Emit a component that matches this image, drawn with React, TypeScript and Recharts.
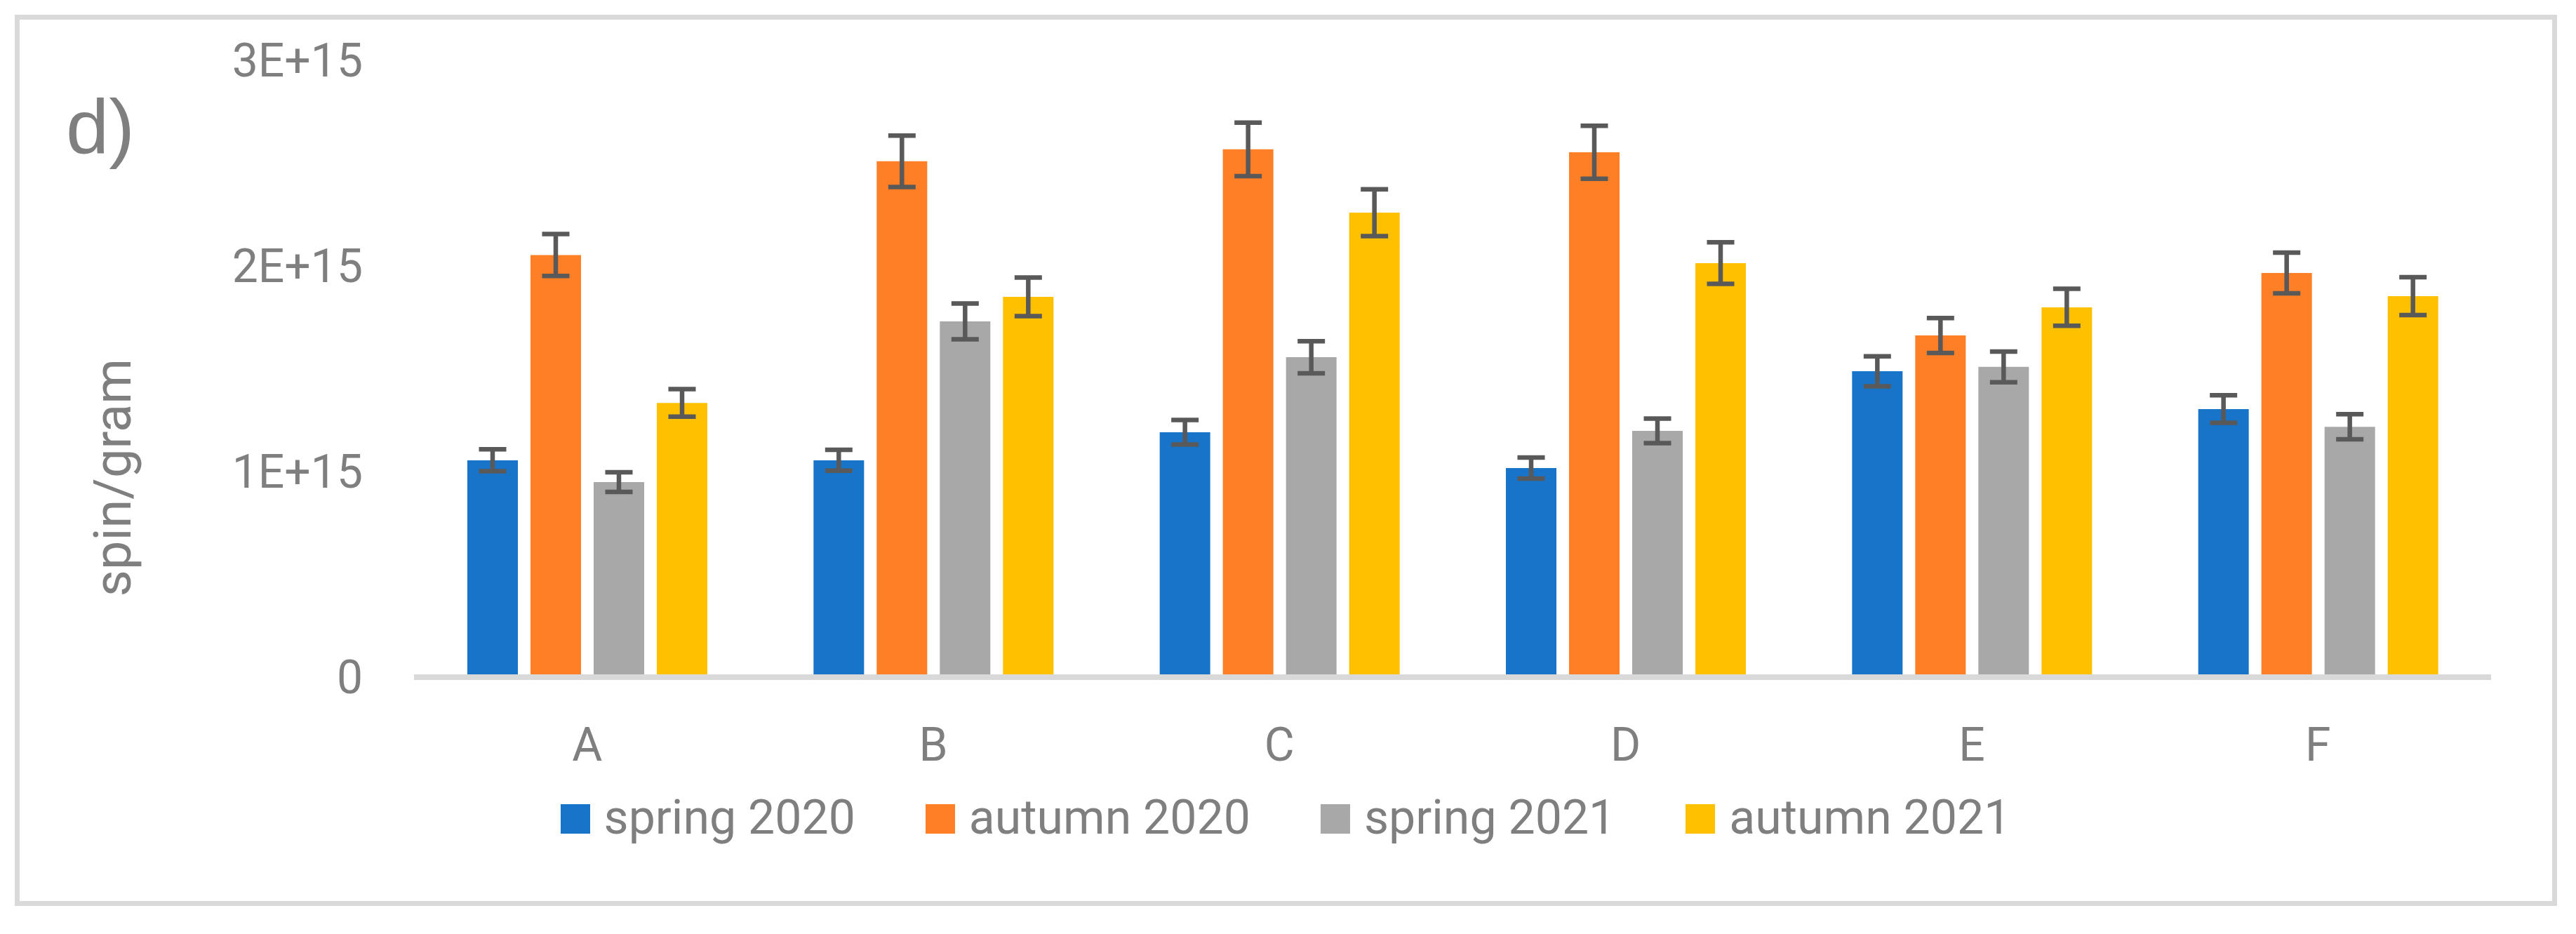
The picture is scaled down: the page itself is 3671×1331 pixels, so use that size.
import { Bar, BarChart, ErrorBar, Label, Legend, XAxis, YAxis } from "recharts";

const SITES = ["A", "B", "C", "D", "E", "F"];

// spin/gram per site and season
const SPRING_2020 = [1.055e15, 1.055e15, 1.191e15, 1.017e15, 1.488e15, 1.304e15];
const AUTUMN_2020 = [2.053e15, 2.509e15, 2.567e15, 2.553e15, 1.662e15, 1.966e15];
const SPRING_2021 = [0.949e15, 1.73e15, 1.556e15, 1.198e15, 1.509e15, 1.218e15];
const AUTUMN_2021 = [1.334e15, 1.85e15, 2.259e15, 2.014e15, 1.799e15, 1.853e15];

const SPRING_2020_ERR = [0.053e15, 0.051e15, 0.06e15, 0.051e15, 0.073e15, 0.067e15];
const AUTUMN_2020_ERR = [0.102e15, 0.125e15, 0.13e15, 0.129e15, 0.085e15, 0.099e15];
const SPRING_2021_ERR = [0.048e15, 0.087e15, 0.078e15, 0.06e15, 0.075e15, 0.061e15];
const AUTUMN_2021_ERR = [0.067e15, 0.094e15, 0.114e15, 0.101e15, 0.09e15, 0.092e15];

const Y_TICKS = [0, 1e15, 2e15, 3e15];
const Y_TICK_LABELS = ["0", "1E+15", "2E+15", "3E+15"];

const SERIES = [
  { key: "s20", name: "spring 2020", color: "#1874C8" },
  { key: "a20", name: "autumn 2020", color: "#FF7F27" },
  { key: "s21", name: "spring 2021", color: "#A8A8A8" },
  { key: "a21", name: "autumn 2021", color: "#FFC000" },
];

const data = SITES.map((site, i) => ({
  site,
  s20: SPRING_2020[i],
  a20: AUTUMN_2020[i],
  s21: SPRING_2021[i],
  a21: AUTUMN_2021[i],
  s20Err: SPRING_2020_ERR[i],
  a20Err: AUTUMN_2020_ERR[i],
  s21Err: SPRING_2021_ERR[i],
  a21Err: AUTUMN_2021_ERR[i],
}));

const FONT = "Roboto, 'Liberation Sans', sans-serif";
const TEXT = "#7F7F7F";
const TICK = { fill: TEXT, fontSize: 66, fontFamily: FONT };

// legend keeps the series order (Recharts would sort it by name)
function LegendRow() {
  return (
    <div
      style={{
        display: "flex",
        justifyContent: "center",
        gap: 100,
        fontFamily: FONT,
        fontSize: 68,
        lineHeight: 1,
        color: TEXT,
      }}
    >
      {SERIES.map((s) => (
        <span key={s.key} style={{ whiteSpace: "nowrap" }}>
          <span
            style={{
              display: "inline-block",
              width: 42,
              height: 42,
              marginRight: 20,
              background: s.color,
              verticalAlign: "baseline",
            }}
          />
          {s.name}
        </span>
      ))}
    </div>
  );
}

function YTitle(props: any) {
  const vb = props.viewBox;
  const x = vb.x + 186;
  const y = vb.y + vb.height / 2 + 155;
  return (
    <text
      x={x}
      y={y}
      transform={`rotate(-90 ${x} ${y})`}
      textAnchor="middle"
      fill={TEXT}
      fontSize={74}
      fontFamily={FONT}
    >
      spin/gram
    </text>
  );
}

export default function App() {
  return (
    <div style={{ position: "absolute", left: 0, top: 0, width: 3671, height: 1331, background: "#fff" }}>
      <div
        style={{
          position: "absolute",
          left: 21,
          top: 21,
          width: 3623,
          height: 1270,
          border: "7px solid #D9D9D9",
          boxSizing: "border-box",
        }}
      />
      <div
        style={{
          position: "absolute",
          left: 94,
          top: 125,
          fontFamily: "'Liberation Sans', sans-serif",
          fontSize: 110,
          lineHeight: 1,
          color: TEXT,
        }}
      >
        d)
      </div>
      <BarChart
        width={3671}
        height={1331}
        data={data}
        margin={{ top: 86, right: 121, bottom: 246, left: 0 }}
        barSize={72}
        barGap={18}
        style={{ position: "absolute", left: 0, top: 0 }}
      >
        <XAxis
          dataKey="site"
          height={120}
          tick={TICK}
          tickLine={false}
          tickSize={0}
          tickMargin={72}
          axisLine={{ stroke: "#D9D9D9", strokeWidth: 8 }}
        />
        <YAxis
          width={590}
          domain={[0, 3e15]}
          ticks={Y_TICKS}
          interval={0}
          tick={TICK}
          tickLine={false}
          tickSize={0}
          tickMargin={73}
          axisLine={false}
          tickFormatter={(v: number) => Y_TICK_LABELS[Y_TICKS.indexOf(v)] ?? String(v)}
        >
          <Label content={YTitle} />
        </YAxis>
        <Legend
          layout="horizontal"
          verticalAlign="middle"
          align="center"
          wrapperStyle={{ left: 0, top: 1131, width: 3664 }}
          content={() => <LegendRow />}
        />
        {SERIES.map((s) => (
          <Bar key={s.key} dataKey={s.key} name={s.name} fill={s.color} isAnimationActive={false}>
            <ErrorBar
              dataKey={`${s.key}Err`}
              direction="y"
              width={19.5}
              stroke="#595959"
              strokeWidth={6.5}
              isAnimationActive={false}
            />
          </Bar>
        ))}
      </BarChart>
    </div>
  );
}
